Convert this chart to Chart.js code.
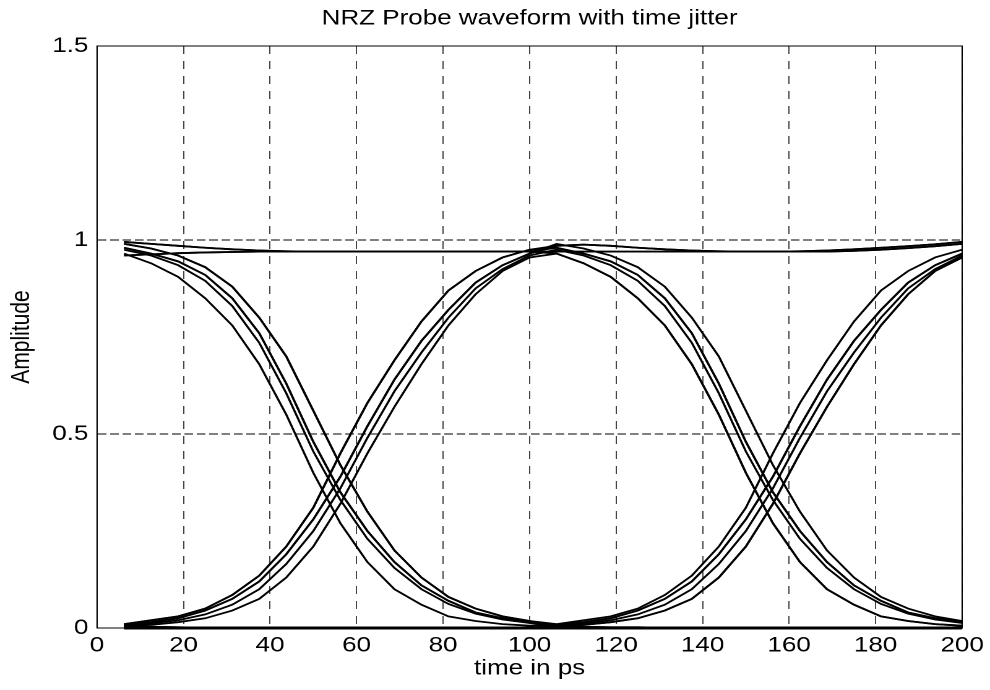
<!DOCTYPE html>
<html>
<head>
<meta charset="utf-8">
<title>NRZ Probe waveform with time jitter</title>
<script src="https://cdn.jsdelivr.net/npm/chart.js@4.4.1/dist/chart.umd.min.js"></script>
<style>
  html, body { margin: 0; padding: 0; background: #fff; overflow: hidden; }
  /* the reference figure is stretched sideways, so draw narrow and stretch */
  #wrap { width: 800px; height: 690px; transform: scaleX(1.2375); transform-origin: 0 0; }
</style>
</head>
<body>
<div id="wrap"><canvas id="eye"></canvas></div>
<script>
// Sample times (ps), one sample every 6.25 ps
const TIME = [6.25, 12.5, 18.75, 25, 31.25, 37.5, 43.75, 50, 56.25, 62.5, 68.75, 75, 81.25, 87.5, 93.75, 100,
              106.25, 112.5, 118.75, 125, 131.25, 137.5, 143.75, 150, 156.25, 162.5, 168.75, 175, 181.25, 187.5, 193.75, 200];

// One bit period (16 samples) of each edge
const FALL_EARLY = [0.965, 0.94, 0.905, 0.85, 0.78, 0.68, 0.55, 0.40, 0.27, 0.17, 0.10, 0.06, 0.03, 0.018, 0.01, 0.006];
const FALL_MID   = [0.98, 0.965, 0.945, 0.91, 0.85, 0.76, 0.63, 0.48, 0.35, 0.25, 0.17, 0.11, 0.07, 0.04, 0.025, 0.015];
const FALL_MID2  = [0.975, 0.96, 0.935, 0.895, 0.83, 0.735, 0.605, 0.455, 0.33, 0.23, 0.155, 0.10, 0.062, 0.037, 0.022, 0.013];
const FALL_LATE  = [0.99, 0.978, 0.96, 0.93, 0.88, 0.80, 0.70, 0.56, 0.42, 0.30, 0.20, 0.13, 0.08, 0.05, 0.03, 0.018];
const RISE_EARLY = [0.01, 0.02, 0.03, 0.05, 0.085, 0.135, 0.21, 0.31, 0.45, 0.58, 0.69, 0.79, 0.87, 0.92, 0.955, 0.975];
const RISE_MID   = [0.008, 0.015, 0.025, 0.045, 0.075, 0.12, 0.19, 0.28, 0.39, 0.52, 0.64, 0.74, 0.82, 0.89, 0.935, 0.965];
const RISE_MID2  = [0.006, 0.012, 0.02, 0.035, 0.06, 0.10, 0.165, 0.25, 0.36, 0.49, 0.61, 0.71, 0.80, 0.875, 0.925, 0.96];
const RISE_LATE  = [0.005, 0.008, 0.015, 0.025, 0.045, 0.075, 0.13, 0.21, 0.32, 0.45, 0.57, 0.68, 0.78, 0.86, 0.92, 0.955];

// Steady levels
const HIGH_START_A = [0.995, 0.99, 0.985, 0.98, 0.976, 0.973, 0.971, 0.97, 0.97, 0.97, 0.97, 0.97, 0.97, 0.97, 0.97, 0.97];
const HIGH_START_B = [0.96, 0.963, 0.966, 0.968, 0.969, 0.97, 0.97, 0.97, 0.97, 0.97, 0.97, 0.97, 0.97, 0.97, 0.97, 0.97];
const HIGH_END     = [0.97, 0.97, 0.97, 0.97, 0.97, 0.97, 0.97, 0.97, 0.97, 0.971, 0.973, 0.976, 0.98, 0.984, 0.989, 0.995];
const HIGH_AFTER   = [0.985, 0.988, 0.985, 0.98, 0.976, 0.973, 0.971, 0.97, 0.97, 0.97, 0.97, 0.972, 0.975, 0.979, 0.984, 0.99];
const LOW_START    = [0.004, 0.003, 0.002, 0.001, 0.001, 0, 0, 0, 0, 0, 0, 0, 0, 0, 0, 0];
const LOW_END      = [0.004, 0.003, 0.002, 0.002, 0.001, 0.001, 0, 0, 0, 0, 0, 0, 0, 0, 0, 0];
const ZERO         = [0, 0, 0, 0, 0, 0, 0, 0, 0, 0, 0, 0, 0, 0, 0, 0];

// Tick labels
const X_TICKS = [0, 20, 40, 60, 80, 100, 120, 140, 160, 180, 200];
const Y_TICK_LABELS = { 0: '0', 0.5: '0.5', 1: '1', 1.5: '1.5' };

// Two-bit traces of the eye (first bit period + second bit period)
const TRACES = [
    HIGH_START_A.concat(HIGH_END),   // 1 1 1
    HIGH_START_B.concat(HIGH_END),
    RISE_EARLY.concat(FALL_MID),     // 0 1 0
    RISE_MID.concat(FALL_LATE),
    RISE_LATE.concat(FALL_EARLY),
    RISE_MID2.concat(FALL_MID2),
    FALL_EARLY.concat(RISE_MID),     // 1 0 1
    FALL_MID.concat(RISE_LATE),
    FALL_LATE.concat(RISE_EARLY),
    FALL_MID2.concat(RISE_MID2),
    RISE_MID.concat(HIGH_AFTER),     // 0 1 1
    RISE_EARLY.concat(HIGH_AFTER),
    FALL_MID.concat(LOW_END),        // 1 0 0
    FALL_LATE.concat(LOW_END),
    HIGH_START_A.concat(FALL_MID),   // 1 1 0
    HIGH_START_B.concat(FALL_EARLY),
    LOW_START.concat(RISE_MID),      // 0 0 1
    LOW_START.concat(RISE_LATE)
];
const ZERO_TRACE = ZERO.concat(ZERO); // 0 0 0

const FONT = { family: "'Liberation Sans', Arial, sans-serif", size: 21, weight: 'normal' };

function toPoints(values) {
    return values.map((y, i) => ({ x: TIME[i], y: y }));
}

const datasets = TRACES.map(values => ({
    data: toPoints(values),
    borderColor: '#000',
    borderWidth: 1.8,
    pointRadius: 0,
    tension: 0,
    fill: false
}));
datasets.push({
    data: toPoints(ZERO_TRACE),
    borderColor: '#000',
    borderWidth: 3,
    pointRadius: 0,
    tension: 0,
    fill: false,
    clip: 2
});

// MATLAB style closed box round the axes
const boxPlugin = {
    id: 'box',
    afterDraw(chart) {
        const { ctx, chartArea } = chart;
        ctx.save();
        ctx.strokeStyle = '#000';
        ctx.lineWidth = 1;
        ctx.strokeRect(chartArea.left, chartArea.top, chartArea.right - chartArea.left, chartArea.bottom - chartArea.top);
        ctx.restore();
    }
};

const ctx = document.getElementById('eye').getContext('2d');
new Chart(ctx, {
    type: 'line',
    data: { datasets: datasets },
    plugins: [boxPlugin],
    options: {
        responsive: true,
        maintainAspectRatio: false,
        animation: false,
        devicePixelRatio: 2,
        layout: { padding: { left: 0, right: 21, top: 0, bottom: 0 } },
        plugins: {
            legend: { display: false },
            tooltip: { enabled: false },
            title: {
                display: true,
                fullSize: false,
                text: 'NRZ Probe waveform with time jitter',
                color: '#000',
                font: FONT,
                padding: { top: 6, bottom: 14.8 }
            }
        },
        scales: {
            x: {
                type: 'linear',
                min: 0,
                max: 200,
                afterBuildTicks: s => { s.ticks = X_TICKS.map(v => ({ value: v })); },
                ticks: { color: '#000', font: FONT, padding: 5, maxRotation: 0, autoSkip: false },
                grid: { color: '#444', lineWidth: 1, drawTicks: false },
                border: { display: true, color: '#000', width: 1, dash: [8, 7] },
                title: { display: true, text: 'time in ps', color: '#000', font: FONT, padding: { top: 0, bottom: 8.5 } },
                afterFit: s => { s.height = 62; }
            },
            y: {
                min: 0,
                max: 1.5,
                ticks: { stepSize: 0.5, color: '#000', font: FONT, padding: 7, callback: v => Y_TICK_LABELS[v] },
                grid: { color: '#000', lineWidth: 1, drawTicks: false },
                border: { display: true, color: '#000', width: 1, dash: [7, 3] },
                title: { display: true, text: 'Amplitude', color: '#000', font: FONT, padding: { top: 5, bottom: 0 } },
                afterFit: s => { s.width = 78.4; }
            }
        }
    }
});
</script>
</body>
</html>
